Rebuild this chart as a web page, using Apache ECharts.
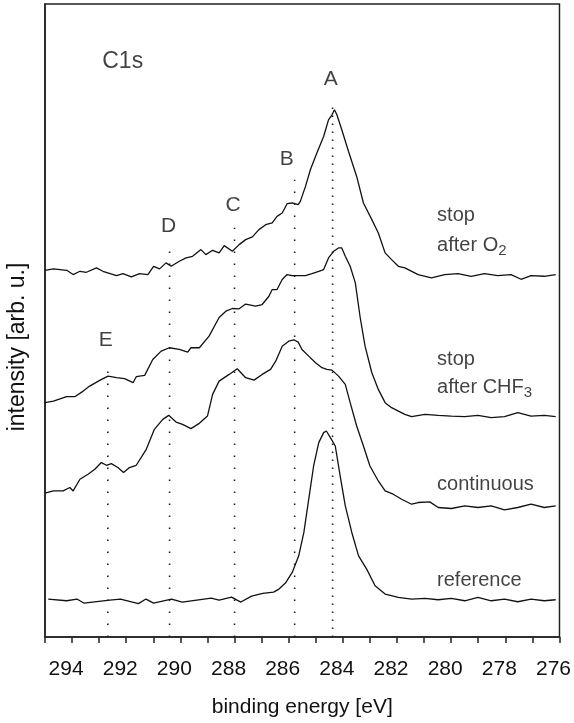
<!DOCTYPE html>
<html>
<head>
<meta charset="utf-8">
<script src="https://cdn.jsdelivr.net/npm/echarts@6/dist/echarts.min.js"></script>
<style>
html,body{margin:0;padding:0;background:#fff;}
#chart{width:574px;height:723px;}
</style>
</head>
<body>
<div id="chart"></div>
<script>
// ---------- data (binding energy in eV, intensity in arb. units) ----------
var o2E = [295.00,294.69,294.20,293.96,293.71,293.47,293.10,292.86,292.36,292.12,291.81,291.51,291.20,290.99,290.77,290.53,290.34,290.04,289.79,289.55,289.24,289.06,288.81,288.57,288.38,288.08,287.83,287.59,287.34,287.10,286.85,286.61,286.43,286.24,286.06,285.87,285.65,285.57,285.38,285.20,284.96,284.71,284.53,284.40,284.31,284.22,284.04,283.79,283.49,283.24,282.93,282.69,282.44,282.20,281.95,281.71,281.22,280.73,280.24,279.75,279.26,278.77,278.28,277.79,277.42,277.05,276.56,276.14];
var o2I = [367.3,368.7,367.3,363,366.3,365.3,369.7,366.3,362,364,360.7,364,363,371.3,368.7,374.7,371.3,376.3,379.7,381.3,388,383,387.3,384.7,392,386.3,393,398,400.7,408,413,414.7,421.3,424.7,434,434.7,433,436.3,451.3,468,484.7,501.3,518,523,528,523,508,486.3,461.3,434.7,418,404.7,384.7,378,371.3,369.7,363,359.7,363,364,361.3,364,362,363,358.3,362,361.3,363];

var chfE = [295.00,294.69,294.20,293.90,293.59,293.35,292.98,292.67,292.36,292.06,291.75,291.63,291.32,291.02,290.71,290.41,290.04,289.73,289.61,289.30,288.94,288.57,288.32,288.08,287.83,287.59,287.22,286.98,286.73,286.61,286.43,286.24,286.06,285.87,285.65,285.38,285.14,284.89,284.71,284.53,284.34,284.16,284.04,283.91,283.73,283.54,283.36,283.18,282.93,282.69,282.44,282.20,281.95,281.71,281.46,280.97,280.48,279.99,279.50,279.01,278.52,278.03,277.54,277.05,276.56,276.14];
var chfI = [234.7,236.3,240.7,240.7,246.3,251.3,257,261.3,259.7,258.7,254.7,260.7,262,278,286.3,289.7,288,285.3,289.7,289.7,301.3,320,326.3,329,328.7,333.5,331.3,333,341.3,348,348,358,363,362,362,362,364,366.3,368,379.7,386.3,389.7,389.7,381.3,371.3,354.7,320,291.3,264.7,248,234.7,229.7,226.3,223,220.7,223,222,221.3,220.7,222,219.7,220.7,224.7,221.3,222,220.7];

var contE = [295.00,294.69,294.33,294.08,293.96,293.71,293.41,293.16,292.92,292.73,292.55,292.31,292.10,291.88,291.63,291.26,290.96,290.65,290.43,290.16,289.92,289.61,289.30,289.00,288.81,288.57,288.20,287.90,287.59,287.28,286.98,286.67,286.48,286.24,286.00,285.81,285.65,285.51,285.26,285.01,284.77,284.59,284.40,284.16,283.91,283.73,283.49,283.24,283.00,282.69,282.44,282.14,281.83,281.46,281.22,280.79,280.48,279.99,279.50,279.01,278.52,278.03,277.54,277.05,276.56,276.14];
var contI = [144,146.3,146.3,149.7,146.3,158,163,168,174.7,172,173.7,169.7,164.7,169.7,172,188,208,218,222,215.3,213,208.7,214,221.3,243,256.3,263,268.7,259.7,257.3,263,268,276.3,291.3,296.3,297.7,295.3,288,281.3,274.7,269.7,268,267.3,261.3,253,234.7,211.3,191.3,171.3,156.3,146.3,143,138,133,134.7,135.3,129.7,128.7,131.3,129.7,131.3,127.3,129.7,133,129.7,131.3];

var refE = [294.88,294.20,293.82,293.57,292.61,292.21,291.55,291.27,290.99,290.33,289.93,288.86,288.57,288.11,287.77,287.37,286.96,286.56,286.36,286.12,285.87,285.63,285.44,285.26,285.08,284.89,284.71,284.61,284.46,284.28,284.10,283.91,283.67,283.42,283.12,282.81,282.44,281.95,281.46,280.97,280.48,279.99,279.50,279.01,278.52,278.03,277.54,277.05,276.56,276.14];
var refI = [38,36.3,38,34,37,38,33.4,38,34,38,35,39,37,40,35,41,43.6,45,48,54,64.7,81.3,104.7,138,171.3,194.7,204.7,206.3,199.7,191.3,161.3,131.3,104.7,81.3,68,51.3,43,39.7,38,38.7,37.3,38.7,36.3,39.7,36.3,38,35.3,38,36.3,37.3];

// peak markers
var peakLabels = ['A','B','C','D','E'];
var peakEnergy = [284.38, 285.78, 288.00, 290.40, 292.68];
var peakLineTop = [531, 458, 410, 388, 266];
var letterEnergy = [284.45, 286.07, 288.05, 290.44, 292.76];
var letterHeight = [559, 479, 432, 411, 297];

// curve annotations
var curveTexts = ['stop', 'after O{sub|2}', 'stop', 'after CHF{sub|3}', 'continuous', 'reference'];
var curveTextEnergy = [280.52, 280.52, 280.52, 280.52, 280.52, 280.52];
var curveTextHeight = [422, 392, 278, 250, 153, 57];

var xTicks = [294, 292, 290, 288, 286, 284, 282, 280, 278, 276];

// ---------- build ----------
function zip(a, b) { return a.map(function (v, i) { return [v, b[i]]; }); }

var FONT = 'Liberation Sans, Arial, Helvetica, sans-serif';
var TXT = '#111';
var LINE = '#111';

var series = [];
[[o2E, o2I], [chfE, chfI], [contE, contI], [refE, refI]].forEach(function (c) {
  series.push({
    type: 'line', data: zip(c[0], c[1]), symbol: 'none', smooth: false,
    lineStyle: { color: LINE, width: 1.3 }, silent: true, z: 3
  });
});

peakLabels.forEach(function (lab, i) {
  series.push({
    type: 'line', data: [[peakEnergy[i], 0], [peakEnergy[i], peakLineTop[i]]],
    symbol: 'none', silent: true, z: 2,
    lineStyle: { color: '#222', width: 1.6, type: i === 0 ? [1.6, 6.4] : [1.6, 10.4], cap: 'butt' }
  });
});

series.push({
  type: 'scatter', symbolSize: 0, silent: true, z: 5,
  data: peakLabels.map(function (l, i) { return { name: l, value: [letterEnergy[i], letterHeight[i]] }; })
    .concat([{ name: 'C1s', value: [292.13, 576], label: { fontSize: 23 } }]),
  label: { show: true, position: 'inside', formatter: '{b}', color: TXT, fontFamily: FONT, fontSize: 21 }
});

series.push({
  type: 'scatter', symbolSize: 0, silent: true, z: 5,
  data: curveTexts.map(function (t, i) { return { name: t, value: [curveTextEnergy[i], curveTextHeight[i]] }; }),
  label: {
    show: true, position: 'right', distance: 0, formatter: '{b}', color: TXT, fontFamily: FONT, fontSize: 20,
    lineHeight: 26, verticalAlign: 'middle',
    rich: { sub: { fontSize: 15, lineHeight: 10, verticalAlign: 'bottom', color: TXT, fontFamily: FONT } }
  }
});

var chart = echarts.init(document.getElementById('chart'), null, { renderer: 'canvas' });
chart.setOption({
  backgroundColor: '#fff',
  animation: false,
  grid: { left: 45, right: 12, top: 4, bottom: 85, show: true, borderColor: '#222', borderWidth: 1.5, backgroundColor: 'transparent' },
  xAxis: {
    type: 'value', min: 276, max: 295, interval: 1, inverse: true,
    axisLine: { show: true, lineStyle: { color: '#222', width: 1.5 } },
    axisTick: { show: true, length: 6, lineStyle: { color: '#222', width: 1.5 } },
    splitLine: { show: false },
    axisLabel: {
      color: TXT, fontFamily: FONT, fontSize: 21, margin: 22, padding: [0, 12, 0, 0],
      formatter: function (v) { return xTicks.indexOf(v) >= 0 ? String(v) : ''; }
    },
    name: 'binding energy [eV]', nameLocation: 'middle', nameGap: 60,
    nameTextStyle: { color: TXT, fontFamily: FONT, fontSize: 21 }
  },
  yAxis: {
    type: 'value', min: 0, max: 634,
    axisLine: { show: true, lineStyle: { color: '#222', width: 1.5 } },
    axisTick: { show: false }, axisLabel: { show: false }, splitLine: { show: false }
  },
  graphic: [{
    type: 'text', x: 18, y: 347, rotation: Math.PI / 2,
    style: { text: 'intensity [arb. u.]', fill: TXT, font: '23px ' + FONT, textAlign: 'center', textVerticalAlign: 'middle' }
  }],
  series: series
});
</script>
</body>
</html>
